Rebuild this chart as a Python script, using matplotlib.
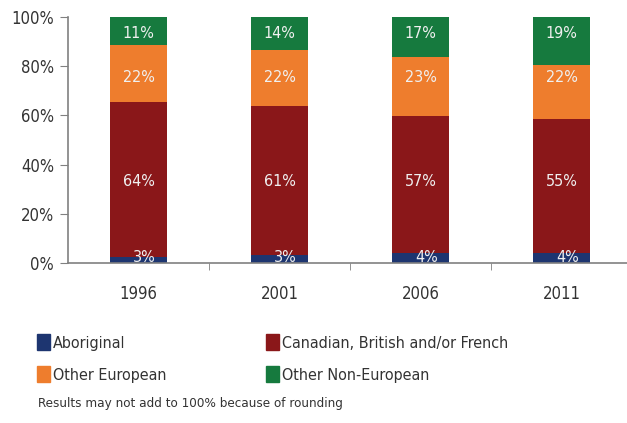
import matplotlib.pyplot as plt
from matplotlib.patches import Patch

years = ["1996", "2001", "2006", "2011"]
# segment heights (percent)
aboriginal = [2.3, 3.1, 4.1, 4.1]
canadian = [63.1, 60.6, 55.8, 54.4]
other_european = [23.4, 23.0, 23.7, 22.1]
non_european = [11.2, 13.3, 16.4, 19.4]
# printed labels
lab_aboriginal = ["3%", "3%", "4%", "4%"]
lab_canadian = ["64%", "61%", "57%", "55%"]
lab_other_european = ["22%", "22%", "23%", "22%"]
lab_non_european = ["11%", "14%", "17%", "19%"]

names = ["Aboriginal", "Canadian, British and/or French",
         "Other European", "Other Non-European"]
colors = ["#1d3570", "#8a1719", "#ee7d2d", "#167a3e"]
note = "Results may not add to 100% because of rounding"

# labels sit at one fixed height per series in the original
label_y = [2.3, 33.0, 75.5, 93.4]
label_dx = [0.04, 0, 0, 0]

plt.rcParams['font.family'] = ['DejaVu Sans']
plt.rcParams['font.stretch'] = 'condensed'
fig = plt.figure(figsize=(6.27, 4.23), dpi=100)
ax = fig.add_axes([68 / 627, 1 - 263 / 423, 564 / 627, 246 / 423])

x = list(range(len(years)))
series = [aboriginal, canadian, other_european, non_european]
labels = [lab_aboriginal, lab_canadian, lab_other_european, lab_non_european]
bottom = [0.0] * len(years)
for k, (vals, labs, c) in enumerate(zip(series, labels, colors)):
    ax.bar(x, vals, width=0.4, bottom=bottom, color=c, edgecolor='none')
    for i, lab in enumerate(labs):
        ax.text(i + label_dx[k], label_y[k], lab, ha='center', va='center',
                color='#f0f0f0', fontsize=11.5)
    bottom = [b + v for b, v in zip(bottom, vals)]

ax.set_xlim(-0.5, 3.5)
ax.set_ylim(0, 100)
ax.set_yticks(range(0, 101, 20))
ax.set_yticklabels([f"{t}%" for t in range(0, 101, 20)], fontsize=12, color='#333333')
ax.set_xticks(x)
ax.set_xticklabels(years, fontsize=12, color='#333333')
ax.set_xticks([0.5, 1.5, 2.5, 3.5], minor=True)
ax.tick_params(axis='x', which='major', length=0, pad=16)
ax.tick_params(axis='x', which='minor', length=5, color='#808080', direction='out')
ax.tick_params(axis='y', length=6, color='#808080', pad=4)
for s in ['top', 'right']:
    ax.spines[s].set_visible(False)
for s in ['left', 'bottom']:
    ax.spines[s].set_color('#808080')
    ax.spines[s].set_linewidth(1.2)

handles = [Patch(color=c) for c in colors]
kw = dict(loc='center left', frameon=False, fontsize=11.5, handlelength=0.8,
          handleheight=1.1, handletextpad=0.2, labelspacing=1.0,
          labelcolor='#333333', borderpad=0, borderaxespad=0)
fig.legend([handles[0], handles[2]], [names[0], names[2]],
           bbox_to_anchor=(37 / 627, 1 - 358.5 / 423), **kw)
fig.legend([handles[1], handles[3]], [names[1], names[3]],
           bbox_to_anchor=(266 / 627, 1 - 358.5 / 423), **kw)
fig.text(38 / 627, 1 - 403 / 423, note, fontsize=9.6, color='#333333', va='center')

fig.savefig("out.png", dpi=100)
